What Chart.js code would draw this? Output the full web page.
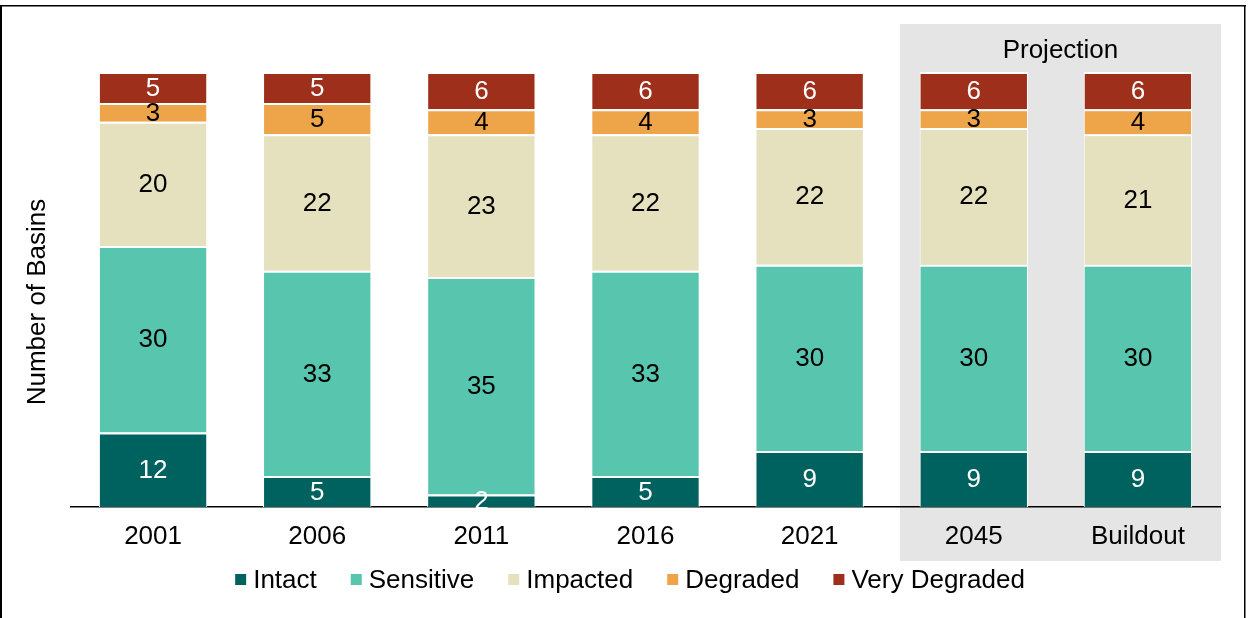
<!DOCTYPE html>
<html>
<head>
<meta charset="utf-8">
<script src="https://cdn.jsdelivr.net/npm/chart.js@4/dist/chart.umd.min.js"></script>
<style>
  html, body { margin: 0; padding: 0; background: #fff; }
  #wrap { width: 1249px; height: 618px; }
</style>
</head>
<body>
<div id="wrap"><canvas id="c" width="1249" height="618"></canvas></div>
<script>
const categories = ['2001', '2006', '2011', '2016', '2021', '2045', 'Buildout'];
const intact       = [12, 5, 2, 5, 9, 9, 9];
const sensitive    = [30, 33, 35, 33, 30, 30, 30];
const impacted     = [20, 22, 23, 22, 22, 22, 21];
const degraded     = [3, 5, 4, 4, 3, 3, 4];
const veryDegraded = [5, 5, 6, 6, 6, 6, 6];
const seriesNames  = ['Intact', 'Sensitive', 'Impacted', 'Degraded', 'Very Degraded'];
const projectionStart = 5; // index of first projected category
const yMax = 70;

const FONT = '"Liberation Sans", Arial, sans-serif';
const colors = ['#00625F', '#58C5AE', '#E5E0BE', '#EEA449', '#9E2F1B'];
const labelColors = ['#ffffff', '#000000', '#000000', '#000000', '#ffffff'];

const seriesData = [intact, sensitive, impacted, degraded, veryDegraded];

const datasets = seriesData.map((d, i) => ({
  label: seriesNames[i],
  data: d,
  backgroundColor: colors[i],
  borderColor: '#ffffff',
  borderWidth: { top: 2, left: 1, right: 1, bottom: 0 },
  borderSkipped: false,
  categoryPercentage: 1.0,
  barPercentage: 0.66
}));

const projectionPlugin = {
  id: 'projection',
  beforeDraw(chart) {
    const ctx = chart.ctx;
    const x = chart.scales.x;
    const area = chart.chartArea;
    const step = x.getPixelForValue(1) - x.getPixelForValue(0);
    const left = x.getPixelForValue(projectionStart) - step * 0.45;
    const right = area.right + 1;
    const top = 24;
    const bottom = area.bottom + 54;
    ctx.save();
    ctx.fillStyle = '#E5E5E5';
    ctx.fillRect(left, top, right - left, bottom - top);
    ctx.fillStyle = '#000';
    ctx.font = '26px ' + FONT;
    ctx.textAlign = 'center';
    ctx.textBaseline = 'alphabetic';
    ctx.fillText('Projection', (left + right) / 2, top + 34);
    ctx.restore();
  }
};

const labelsPlugin = {
  id: 'segLabels',
  afterDatasetsDraw(chart) {
    const ctx = chart.ctx;
    ctx.save();
    ctx.font = '26px ' + FONT;
    ctx.textAlign = 'center';
    ctx.textBaseline = 'middle';
    chart.data.datasets.forEach((ds, di) => {
      const meta = chart.getDatasetMeta(di);
      meta.data.forEach((el, i) => {
        const v = ds.data[i];
        ctx.fillStyle = labelColors[di];
        ctx.fillText(String(v), el.x, (el.y + el.base) / 2 + 1);
      });
    });
    ctx.restore();
  }
};

const decorPlugin = {
  id: 'decor',
  afterDraw(chart) {
    const ctx = chart.ctx;
    ctx.save();
    // y axis title
    ctx.fillStyle = '#000';
    ctx.font = '26px ' + FONT;
    ctx.textAlign = 'center';
    ctx.textBaseline = 'middle';
    ctx.translate(38, 302);
    ctx.rotate(-Math.PI / 2);
    ctx.fillText('Number of Basins', 0, 0);
    ctx.restore();

    // legend
    ctx.save();
    ctx.font = '26px ' + FONT;
    ctx.textBaseline = 'alphabetic';
    ctx.textAlign = 'left';
    const box = 11, gapBox = 7, gapItem = 34;
    const items = chart.data.datasets.map(d => ({ label: d.label, color: d.backgroundColor, w: ctx.measureText(d.label).width }));
    let total = 0;
    items.forEach((it, i) => { total += box + gapBox + it.w + (i < items.length - 1 ? gapItem : 0); });
    let xx = 630 - total / 2;
    const baseY = 588;
    items.forEach(it => {
      ctx.fillStyle = it.color;
      ctx.fillRect(xx, baseY - 14, box, box);
      ctx.fillStyle = '#000';
      ctx.fillText(it.label, xx + box + gapBox, baseY);
      xx += box + gapBox + it.w + gapItem;
    });
    ctx.restore();

    // outer frame
    ctx.save();
    ctx.fillStyle = '#000';
    ctx.fillRect(0, 5, 2, 613);
    ctx.fillRect(0, 5, 1246, 1.5);
    ctx.fillRect(1244, 5, 1.5, 613);
    ctx.restore();
  }
};

new Chart(document.getElementById('c'), {
  type: 'bar',
  data: { labels: categories, datasets },
  options: {
    responsive: false,
    animation: false,
    layout: { padding: { left: 71, right: 29, top: 72, bottom: 0 } },
    plugins: { legend: { display: false }, tooltip: { enabled: false } },
    scales: {
      x: {
        stacked: true,
        grid: { display: false, drawTicks: false },
        border: { display: true, color: '#000', width: 1.5 },
        ticks: { color: '#000', font: { size: 26, family: FONT }, padding: 14, maxRotation: 0, autoSkip: false },
        afterFit(scale) { scale.height = 111; }
      },
      y: {
        stacked: true,
        display: false,
        min: 0,
        max: yMax
      }
    }
  },
  plugins: [projectionPlugin, labelsPlugin, decorPlugin]
});
</script>
</body>
</html>
